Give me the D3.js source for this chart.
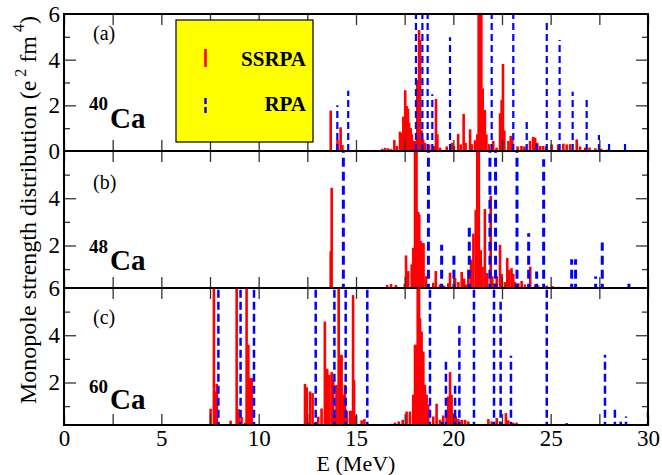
<!DOCTYPE html>
<html>
<head>
<meta charset="utf-8">
<script src="https://cdn.jsdelivr.net/npm/d3@7"></script>
<style>
  body { margin: 0; background: #fff; }
  svg { display: block; }
  text { font-family: "Liberation Serif", "Times New Roman", serif; fill: #000; }
</style>
</head>
<body>
<svg id="chart" width="662" height="475"></svg>
<script>
// Excitation energy axis (MeV)
const energyMajorTicks = [0, 5, 10, 15, 20, 25, 30];
const energyMinorTicks = [2.5, 7.5, 12.5, 17.5, 22.5, 27.5];
const strengthMajorTicks = [0, 2, 4, 6];
const strengthMinorTicks = [1, 3, 5];

// Monopole strength, [E (MeV), S (e^2 fm^4)]
const ca40Ssrpa = [
  [13.2,0.03],[13.45,0.03],[13.7,1.77],[14.05,0.48],[14.21,1.04],[14.3,0.26],[15.5,0.04],[16.0,0.05],
  [16.35,0.1],[16.5,0.14],[16.65,0.12],[16.8,0.08],[16.97,0.48],[17.1,0.22],[17.26,0.85],[17.34,0.78],
  [17.43,1.5],[17.53,2.66],[17.6,1.97],[17.67,1.86],[17.73,1.24],[17.81,1.0],[17.87,0.73],[17.94,0.44],
  [18.03,0.44],[18.15,3.1],[18.24,5.3],[18.29,4.86],[18.37,0.9],[18.45,0.5],[18.54,0.36],[18.76,0.29],
  [19.0,0.22],[19.11,2.28],[19.18,0.73],[19.32,0.15],[19.66,0.2],[19.93,0.36],[20.03,0.22],[20.25,0.75],
  [20.38,0.29],[20.53,1.62],[20.63,0.36],[20.86,0.95],[20.94,0.3],[21.11,0.47],[21.23,0.73],[21.3,8.0],
  [21.37,9.0],[21.44,7.0],[21.51,2.74],[21.62,1.8],[21.7,0.73],[21.84,0.3],[22.05,0.44],[22.22,0.15],
  [22.4,1.65],[22.48,2.23],[22.55,3.81],[22.62,0.9],[22.83,0.44],[22.95,0.66],[23.03,0.58],[23.3,0.2],
  [23.5,0.22],[23.65,0.2],[23.94,0.44],[24.1,0.62],[24.2,0.58],[24.31,0.36],[24.45,0.22],[24.6,0.22],
  [24.75,0.2],[25.05,0.29],[25.39,0.29],[25.65,0.32],[25.82,0.29],[26.0,0.3],[26.34,0.51],[26.51,0.2],
  [26.77,0.15],[27.0,0.15],[27.3,0.12],[27.6,0.1],[27.9,0.06]
];
const ca40Rpa = [
  [14.04,2.0],[14.6,2.64],[18.08,8.0],[18.41,8.0],[18.68,8.0],[18.92,2.48],[19.83,4.98],[21.97,8.0],
  [23.08,8.0],[23.77,1.36],[24.28,0.35],[24.8,5.62],[25.46,4.86],[26.13,2.6],[26.85,2.23],[27.48,0.7],
  [28.0,0.38],[28.82,0.38]
];
const ca48Ssrpa = [
  [13.7,1.76],[13.75,4.44],[16.6,0.33],[16.8,0.37],[17.05,0.33],[17.51,0.38],[17.57,1.58],[17.68,0.92],
  [17.86,1.2],[17.94,1.9],[18.03,9.0],[18.11,8.0],[18.2,3.42],[18.25,3.31],[18.32,2.19],[18.4,2.1],
  [18.47,2.1],[18.6,0.7],[18.97,0.42],[19.1,0.92],[19.31,0.35],[19.52,0.3],[19.74,0.4],[19.83,0.85],
  [20.09,0.62],[20.26,0.45],[20.43,0.88],[20.55,0.6],[20.65,0.35],[20.77,0.97],[20.91,1.4],[21.03,2.5],
  [21.15,3.5],[21.23,8.0],[21.31,9.0],[21.41,1.8],[21.5,1.1],[21.62,3.54],[21.74,0.83],[21.92,4.1],
  [22.0,0.7],[22.09,0.4],[22.23,0.7],[22.4,2.03],[22.48,0.8],[22.65,0.45],[22.77,1.47],[22.87,0.97],
  [22.99,1.04],[23.08,0.8],[23.17,0.45],[23.34,0.4],[23.51,0.5],[23.68,0.35],[23.95,1.1],[24.2,0.35],
  [24.36,0.3],[24.8,0.3],[25.1,0.28],[25.4,0.25]
];
const ca48Rpa = [
  [14.35,9.0],[18.72,9.0],[19.4,2.03],[20.03,1.75],[20.82,2.8],[21.88,9.0],[22.17,9.0],[23.27,9.0],
  [23.87,2.52],[24.28,0.9],[24.64,5.65],[26.08,1.42],[26.28,1.42],[27.31,0.69],[27.65,2.13],[29.02,0.52]
];
const ca60Ssrpa = [
  [7.53,0.89],[7.7,9.0],[7.78,1.62],[7.8,0.56],[7.85,1.94],[7.95,0.3],[8.56,0.38],[8.87,9.0],
  [8.97,0.87],[9.12,0.54],[9.3,0.3],[9.38,9.0],[9.47,3.6],[9.55,2.19],[9.64,2.19],[12.2,0.1],
  [12.38,1.94],[12.47,1.8],[12.55,0.3],[12.64,1.62],[12.77,1.55],[12.89,0.3],[13.06,0.55],[13.23,0.9],
  [13.4,4.58],[13.52,2.58],[13.63,2.32],[13.75,2.44],[13.83,2.1],[13.92,0.6],[14.0,1.9],[14.11,9.0],
  [14.18,3.17],[14.26,3.17],[14.35,1.48],[14.43,1.9],[14.52,0.8],[14.69,0.8],[14.78,0.8],[14.85,5.7],
  [14.9,2.1],[15.0,0.6],[15.29,0.4],[15.43,0.45],[16.8,0.25],[17.0,0.3],[17.2,0.35],[17.4,0.42],
  [17.6,0.77],[17.77,0.77],[17.94,1.48],[18.03,3.6],[18.12,3.6],[18.17,9.0],[18.24,9.0],[18.29,4.72],
  [18.37,4.16],[18.46,3.31],[18.54,1.9],[18.63,1.48],[18.71,1.06],[18.97,0.56],[19.14,1.1],[19.31,0.42],
  [19.48,0.6],[19.66,0.77],[19.74,1.41],[19.83,2.44],[19.91,1.48],[20.0,0.7],[20.13,0.56],[20.26,0.45],
  [20.43,0.42],[20.6,0.42],[20.77,0.35],[21.8,0.45],[21.97,0.35],[22.23,0.5],[22.4,0.35],[22.7,0.7],
  [22.82,0.4],[23.08,0.3],[23.25,0.3]
];
const ca60Rpa = [
  [7.93,9.0],[9.07,9.0],[9.76,9.0],[12.93,9.0],[13.89,9.0],[14.47,9.0],[15.58,9.0],[18.8,9.0],
  [19.42,0.45],[19.62,3.0],[20.09,1.86],[20.31,4.54],[21.06,9.0],[22.09,9.0],[22.43,5.43],[22.96,3.13],
  [24.8,9.0],[25.82,0.28],[27.79,3.17],[28.3,0.92],[28.6,0.47],[28.87,0.56],[30.0,0.77]
];

const seriesNames = ["SSRPA", "RPA"];

// Layout
const left = 64, right = 648;
const panels = [
  { tag: "(a)", mass: "40", top: 14,  bottom: 151, yMin: 0,   labels: [0, 2, 4, 6], ssrpa: ca40Ssrpa, rpa: ca40Rpa,
    tagY: 40, massY: 110, isoY: 128, dash: "7,4", rpaWidth: 2.2 },
  { tag: "(b)", mass: "48", top: 151, bottom: 288, yMin: 0.2, labels: [2, 4],       ssrpa: ca48Ssrpa, rpa: ca48Rpa,
    tagY: 189, massY: 253, isoY: 270, dash: "9,5", rpaWidth: 3 },
  { tag: "(c)", mass: "60", top: 288, bottom: 425, yMin: 0.2, labels: [2, 4, 6],    ssrpa: ca60Ssrpa, rpa: ca60Rpa,
    tagY: 324, massY: 393, isoY: 409, dash: "8,4", rpaWidth: 2.5 }
];

const svg = d3.select("#chart");
const x = d3.scaleLinear().domain([0, 30]).range([left, right]);

const tickColor = "#333";
function styleAxis(g) {
  g.select(".domain").remove();
  g.selectAll(".tick line").attr("stroke", tickColor).attr("stroke-width", 1.3);
}

panels.forEach((p, i) => {
  const y = d3.scaleLinear().domain([p.yMin, 6]).range([p.bottom, p.top]);
  const clipId = "clip" + i;
  svg.append("clipPath").attr("id", clipId)
    .append("rect").attr("x", left).attr("y", p.top)
    .attr("width", right - left).attr("height", p.bottom - p.top);

  const plot = svg.append("g").attr("clip-path", `url(#${clipId})`);

  // SSRPA strength: solid red spikes
  plot.append("g").selectAll("line").data(p.ssrpa).join("line")
    .attr("x1", d => x(d[0])).attr("x2", d => x(d[0]))
    .attr("y1", y(p.yMin)).attr("y2", d => y(d[1]))
    .attr("stroke", "#ff0000").attr("stroke-width", 2.6);

  // RPA strength: dashed blue lines
  plot.append("g").selectAll("line").data(p.rpa).join("line")
    .attr("x1", d => x(d[0])).attr("x2", d => x(d[0]))
    .attr("y1", y(0)).attr("y2", d => y(d[1]))
    .attr("stroke", "#0000ff").attr("stroke-width", p.rpaWidth)
    .attr("stroke-dasharray", p.dash);

  // inward ticks on all four sides
  const allX = energyMajorTicks.concat(energyMinorTicks);
  svg.append("g").attr("transform", `translate(0,${p.bottom})`)
    .call(d3.axisBottom(x).tickValues(allX).tickSize(-11).tickFormat(""))
    .call(styleAxis);
  svg.append("g").attr("transform", `translate(0,${p.top})`)
    .call(d3.axisTop(x).tickValues(allX).tickSize(-11).tickFormat(""))
    .call(styleAxis);

  const majors = strengthMajorTicks.filter(v => v > p.yMin && v < 6);
  const minors = strengthMinorTicks;
  [[d3.axisLeft, left], [d3.axisRight, right]].forEach(([ax, pos]) => {
    svg.append("g").attr("transform", `translate(${pos},0)`)
      .call(ax(y).tickValues(majors).tickSize(-12).tickFormat(""))
      .call(styleAxis);
    svg.append("g").attr("transform", `translate(${pos},0)`)
      .call(ax(y).tickValues(minors).tickSize(-6).tickFormat(""))
      .call(styleAxis);
  });

  // strength tick labels
  const yl = svg.append("g").attr("transform", `translate(${left},0)`)
    .call(d3.axisLeft(y).tickValues(p.labels).tickSize(0).tickPadding(4).tickFormat(d3.format("d")));
  yl.select(".domain").remove();
  yl.selectAll("text").attr("font-size", 23).attr("font-family", "Liberation Serif").attr("fill", "#000");

  // frame
  svg.append("rect").attr("x", left).attr("y", p.top)
    .attr("width", right - left).attr("height", p.bottom - p.top)
    .attr("fill", "none").attr("stroke", "#000").attr("stroke-width", 2);

  // panel tag and nucleus
  svg.append("text").attr("x", 93).attr("y", p.tagY).attr("font-size", 20).text(p.tag);
  svg.append("text").attr("x", 89).attr("y", p.massY).attr("font-size", 19)
    .attr("font-weight", "bold").text(p.mass);
  svg.append("text").attr("x", 110).attr("y", p.isoY).attr("font-size", 29)
    .attr("font-weight", "bold").text("Ca");
});

// energy tick labels under the bottom panel
const xl = svg.append("g").attr("transform", `translate(0,${panels[2].bottom})`)
  .call(d3.axisBottom(x).tickValues(energyMajorTicks).tickSize(0).tickPadding(5).tickFormat(d3.format("d")));
xl.select(".domain").remove();
xl.selectAll("text").attr("font-size", 23).attr("font-family", "Liberation Serif").attr("fill", "#000");

// axis titles
svg.append("text").attr("x", x(15)).attr("y", 471).attr("text-anchor", "middle")
  .attr("font-size", 22).text("E (MeV)");

const yt = svg.append("text").attr("transform", "translate(36,210) rotate(-90)")
  .attr("text-anchor", "middle").attr("font-size", 24);
yt.append("tspan").text("Monopole strength distribution (e");
yt.append("tspan").attr("font-size", 16).attr("dy", -10).text(" 2");
yt.append("tspan").attr("dy", 10).text(" fm");
yt.append("tspan").attr("font-size", 16).attr("dy", -12).text(" 4");
yt.append("tspan").attr("dy", 12).text(")");

// legend
const lg = svg.append("g");
lg.append("rect").attr("x", 176).attr("y", 20).attr("width", 137).attr("height", 122)
  .attr("fill", "#ffff00").attr("stroke", "#000").attr("stroke-width", 1.2);
lg.append("line").attr("x1", 205.5).attr("x2", 205.5).attr("y1", 49).attr("y2", 67)
  .attr("stroke", "#ff0000").attr("stroke-width", 2.6);
lg.append("line").attr("x1", 205.5).attr("x2", 205.5).attr("y1", 113).attr("y2", 95)
  .attr("stroke", "#0000ff").attr("stroke-width", 2.4).attr("stroke-dasharray", "6,3");
lg.append("text").attr("x", 306).attr("y", 66).attr("text-anchor", "end")
  .attr("font-size", 21).attr("font-weight", "bold").text(seriesNames[0]);
lg.append("text").attr("x", 306).attr("y", 111).attr("text-anchor", "end")
  .attr("font-size", 21).attr("font-weight", "bold").text(seriesNames[1]);
</script>
</body>
</html>
